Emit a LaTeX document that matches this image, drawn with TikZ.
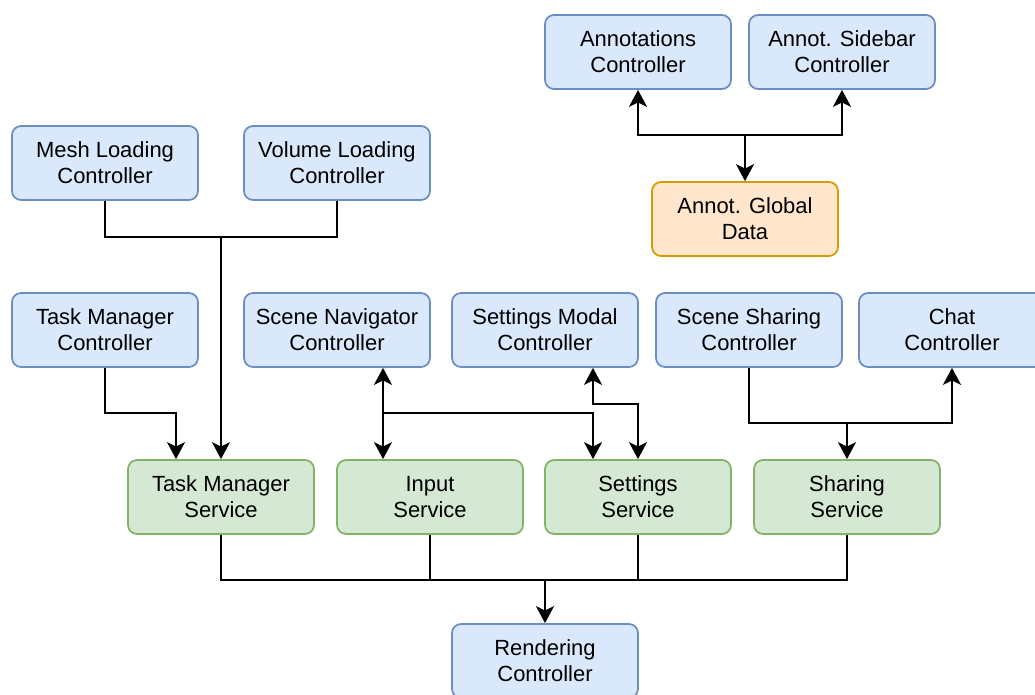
\documentclass[tikz,border=0pt]{standalone}
\usepackage{fontspec}
\setmainfont{Liberation Sans}
\usepackage{xcolor}
\usetikzlibrary{arrows.meta}

\definecolor{ctrlfill}{HTML}{DAE8FC}
\definecolor{ctrldraw}{HTML}{6C8EBF}
\definecolor{svcfill}{HTML}{D5E8D4}
\definecolor{svcdraw}{HTML}{82B366}
\definecolor{datafill}{HTML}{FFE6CC}
\definecolor{datadraw}{HTML}{D79B00}

\begin{document}
\begin{tikzpicture}[x=0.02cm,y=-0.02cm,
    >={Stealth[length=0.34cm,width=0.36cm,inset=0.09cm]},
    box/.style={rounded corners=0.18cm,line width=1pt,align=center,
        minimum width=3.72cm,minimum height=1.48cm,inner sep=0pt,
        font=\fontsize{12.5}{14.8}\selectfont},
    ctrl/.style={box,fill=ctrlfill,draw=ctrldraw},
    svc/.style={box,fill=svcfill,draw=svcdraw},
    data/.style={box,fill=datafill,draw=datadraw},
    link/.style={line width=0.75pt},
    boldlink/.style={line width=1.4pt}]
    \useasboundingbox (0,0) rectangle (1035,695);

    \node[ctrl] (anno) at (638,52) {Annotations\\Controller};
    \node[ctrl] (sidebar) at (842,52) {Annot. Sidebar\\Controller};
    \node[data] (glob) at (745,219) {Annot. Global\\Data};

    \node[ctrl] (mesh) at (105,163) {Mesh Loading\\Controller};
    \node[ctrl] (vol) at (337,163) {Volume Loading\\Controller};

    \node[ctrl] (tmc) at (105,330) {Task Manager\\Controller};
    \node[ctrl] (nav) at (337,330) {Scene Navigator\\Controller};
    \node[ctrl] (modal) at (545,330) {Settings Modal\\Controller};
    \node[ctrl] (sharec) at (749,330) {Scene Sharing\\Controller};
    \node[ctrl] (chat) at (952,330) {Chat\\Controller};

    \node[svc] (tms) at (221,497) {Task Manager\\Service};
    \node[svc] (input) at (430,497) {Input\\Service};
    \node[svc] (sets) at (638,497) {Settings\\Service};
    \node[svc] (shs) at (847,497) {Sharing\\Service};

    \node[ctrl] (rend) at (545,661) {Rendering\\Controller};

    % annotations
    \coordinate (aj) at (745,135);
    \draw[boldlink,<->] (anno.south) |- (aj) -| (sidebar.south);
    \draw[boldlink,->] (aj) -- (glob.north);

    % loading controllers
    \coordinate (mj) at (221,237);
    \draw[link] (mesh.south) |- (mj) -| (vol.south);
    \draw[link,->] (mj) -- (mj |- tms.north);

    \coordinate (tj) at (176,413);
    \draw[link,->] (tmc.south) |- (tj) -- (tj |- tms.north);

    % navigator and settings
    \coordinate (nj) at (383,413);
    \draw[boldlink,<->] (nj |- nav.south) -- (nj |- input.north);
    \coordinate (kj) at (593,413);
    \draw[link,->] (nj) -- (kj) -- (kj |- sets.north);
    \coordinate (mj2) at (593,404);
    \draw[boldlink,<->] (mj2 |- modal.south) -- (mj2) -| (sets.north);

    % sharing
    \coordinate (sj) at (847,423);
    \draw[boldlink,->] (sharec.south) |- (sj) -| (chat.south);
    \draw[boldlink,->] (sj) -- (shs.north);

    % services to rendering
    \coordinate (bj) at (545,580);
    \draw[link] (tms.south) |- (bj);
    \draw[link] (shs.south) |- (bj);
    \draw[boldlink] (input.south) |- (bj);
    \draw[boldlink] (sets.south) |- (bj);
    \draw[boldlink,->] (bj) -- (rend.north);
\end{tikzpicture}
\end{document}
